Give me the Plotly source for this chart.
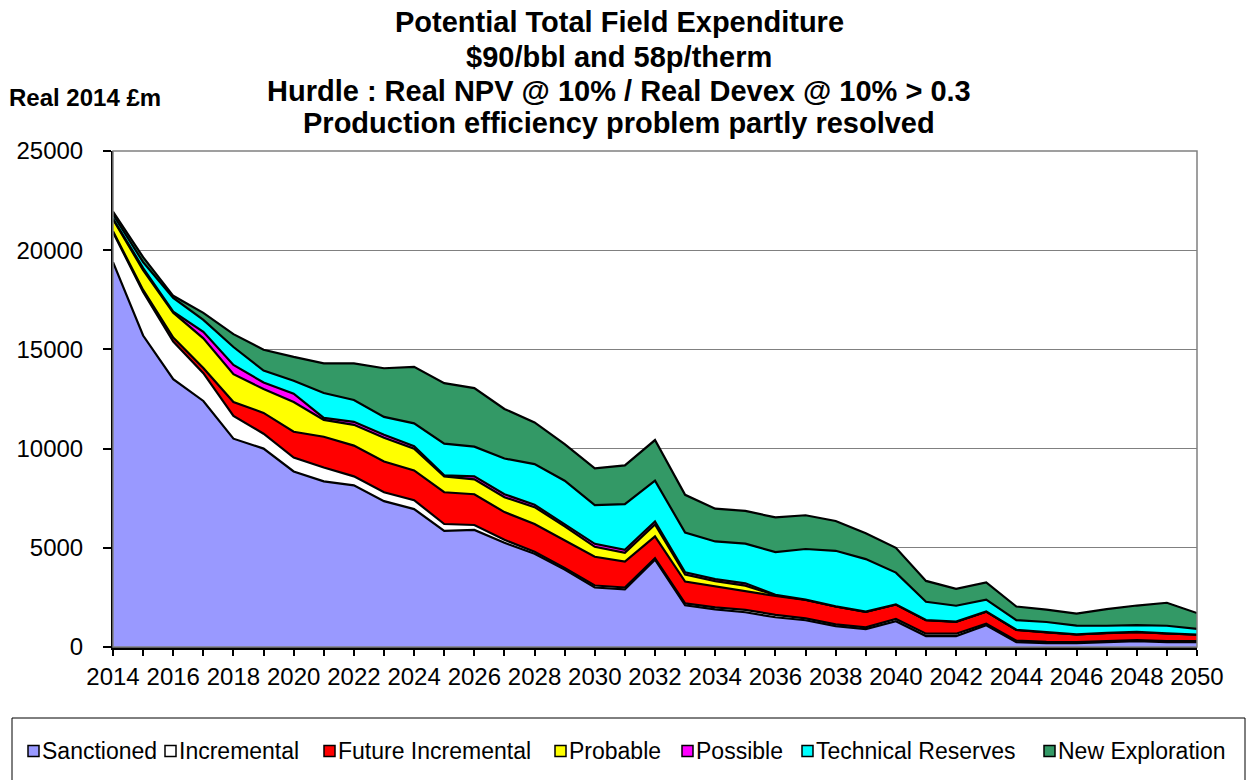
import plotly.graph_objects as go

# ---------------- data (Real 2014 £m) ----------------
years = list(range(2014, 2051))

sanctioned = [19400, 15700, 13500, 12400, 10500, 10000, 8850, 8350, 8150, 7350,
              6950, 5850, 5900, 5250, 4700, 3900, 3000, 2900, 4400, 2100,
              1900, 1750, 1500, 1350, 1050, 900, 1300, 550, 550, 1100,
              250, 200, 200, 250, 300, 250, 250]
incremental = [1500, 2200, 1900, 1400, 1150, 750, 700, 700, 450, 450,
               450, 350, 250, 150, 100, 80, 100, 100, 80, 100,
               100, 120, 120, 90, 90, 90, 110, 120, 120, 80,
               70, 60, 50, 50, 50, 50, 50]
future_incremental = [50, 100, 200, 260, 700, 1050, 1300, 1550, 1550, 1550,
                      1500, 1600, 1550, 1400, 1400, 1400, 1450, 1300, 1100, 1100,
                      1050, 950, 950, 930, 900, 780, 730, 680, 600, 600,
                      540, 480, 380, 400, 400, 380, 320]
probable = [600, 1000, 1250, 1500, 1400, 1200, 1500, 850, 1050, 1200,
            1100, 800, 750, 750, 850, 700, 500, 450, 600, 350,
            270, 270, 40, 10, 5, 5, 5, 5, 5, 5,
            5, 5, 5, 5, 5, 5, 5]
possible = [50, 100, 50, 330, 470, 330, 420, 100, 150, 150,
            120, 50, 150, 150, 120, 100, 150, 150, 150, 120,
            100, 120, 20, 10, 5, 5, 5, 5, 5, 5,
            5, 5, 5, 5, 5, 5, 5]
technical_reserves = [200, 300, 700, 600, 900, 600, 650, 1250, 1100, 900,
                      1150, 1600, 1500, 1800, 2050, 2200, 1950, 2300, 2050, 2000,
                      1900, 2000, 2150, 2550, 2800, 2650, 1600, 920, 800, 600,
                      480, 510, 440, 360, 340, 380, 280]
new_exploration = [150, 250, 100, 350, 650, 1050, 1200, 1500, 1850, 2450,
                   2850, 3050, 2950, 2500, 2100, 1850, 1850, 1950, 2050, 1900,
                   1650, 1650, 1750, 1700, 1500, 1300, 1250, 1050, 850, 870,
                   690, 620, 600, 840, 990, 1160, 800]

series_names = ["Sanctioned", "Incremental", "Future Incremental", "Probable",
                "Possible", "Technical Reserves", "New Exploration"]
series_values = [sanctioned, incremental, future_incremental, probable,
                 possible, technical_reserves, new_exploration]
series_colors = ["#9999FF", "#FFFFFF", "#FF0000", "#FFFF00",
                 "#FF00FF", "#00FFFF", "#339966"]

y_ticks = [0, 5000, 10000, 15000, 20000, 25000]
x_tick_labels = [str(y) for y in range(2014, 2051, 2)]

title_lines = ["Potential Total Field Expenditure",
               "$90/bbl and 58p/therm",
               "Hurdle : Real NPV @ 10% / Real Devex @ 10% > 0.3",
               "Production efficiency problem partly resolved"]
unit_label = "Real 2014 £m"

# ---------------- layout geometry ----------------
W, H = 1256, 780
L, R, T, B = 113, 1197, 151, 647
FONT = "Liberation Sans, Arial, sans-serif"


def px2x(px):
    return (px - L) / (R - L)


def px2y(py):
    return (B - py) / (B - T)


fig = go.Figure()
for name, vals, col in zip(series_names, series_values, series_colors):
    fig.add_trace(go.Scatter(
        x=years, y=vals, name=name, mode="lines", stackgroup="one",
        line=dict(color="black", width=2.2), fillcolor=col,
        showlegend=False, hoverinfo="x+y+name"))

annotations = []
title_y_px = [22, 57, 91, 123]
for txt, ypx in zip(title_lines, title_y_px):
    annotations.append(dict(
        text="<b>" + txt + "</b>", x=px2x(619), y=px2y(ypx),
        xref="paper", yref="paper", xanchor="center", yanchor="middle",
        showarrow=False, font=dict(family=FONT, size=29, color="black")))

annotations.append(dict(
    text="<b>" + unit_label + "</b>", x=px2x(7), y=px2y(97),
    xref="paper", yref="paper", xanchor="left", yanchor="middle",
    showarrow=False, font=dict(family=FONT, size=24, color="black")))

# custom legend (box + small squares + labels)
shapes = []
shapes.append(dict(type="rect", xref="paper", yref="paper",
                   x0=px2x(12), x1=px2x(1245), y0=px2y(800), y1=px2y(718),
                   line=dict(color="black", width=1), fillcolor="white",
                   layer="above"))
legend_square_x = [28, 165, 324, 555, 682, 802, 1044]
legend_y = 751
sq = 11
for name, col, sx in zip(series_names, series_colors, legend_square_x):
    shapes.append(dict(type="rect", xref="paper", yref="paper",
                       x0=px2x(sx), x1=px2x(sx + sq),
                       y0=px2y(legend_y + sq / 2), y1=px2y(legend_y - sq / 2),
                       line=dict(color="black", width=1.5), fillcolor=col,
                       layer="above"))
    annotations.append(dict(
        text=name, x=px2x(sx + sq + 1), y=px2y(legend_y),
        xref="paper", yref="paper", xanchor="left", yanchor="middle",
        showarrow=False, font=dict(family=FONT, size=23, color="black")))

# plot-area border (grey)
shapes.append(dict(type="rect", xref="paper", yref="paper",
                   x0=0, x1=1, y0=0, y1=1,
                   line=dict(color="#808080", width=1.5), layer="above"))

fig.update_layout(
    width=W, height=H,
    margin=dict(l=L, r=W - R, t=T, b=H - B),
    paper_bgcolor="white", plot_bgcolor="white",
    showlegend=False,
    annotations=annotations, shapes=shapes,
    font=dict(family=FONT, size=24, color="black"),
    xaxis=dict(
        range=[2014, 2050], tickmode="array",
        tickvals=list(range(2014, 2051, 2)), ticktext=x_tick_labels,
        ticks="outside", ticklen=6, tickwidth=1.5, tickcolor="black",
        minor=dict(dtick=1, tick0=2014, ticks="outside", ticklen=6,
                   tickwidth=1.5, tickcolor="black", showgrid=False),
        showline=True, linecolor="black", linewidth=2.5,
        showgrid=False, zeroline=False,
        tickfont=dict(family=FONT, size=24, color="black"),
        layer="above traces"),
    yaxis=dict(
        range=[0, 25000], tickmode="array", tickvals=y_ticks,
        ticktext=[str(v) for v in y_ticks],
        ticks="outside", ticklen=8, tickwidth=1.5, tickcolor="black",
        showline=True, linecolor="black", linewidth=2,
        showgrid=True, gridcolor="#808080", gridwidth=1.3,
        zeroline=False, ticklabelstandoff=15,
        tickfont=dict(family=FONT, size=24, color="black"),
        layer="above traces"),
)

fig.write_html("out.html",
               config={"displayModeBar": False},
               post_script="document.body.style.margin='0';"
                           "document.body.style.overflow='hidden';")
